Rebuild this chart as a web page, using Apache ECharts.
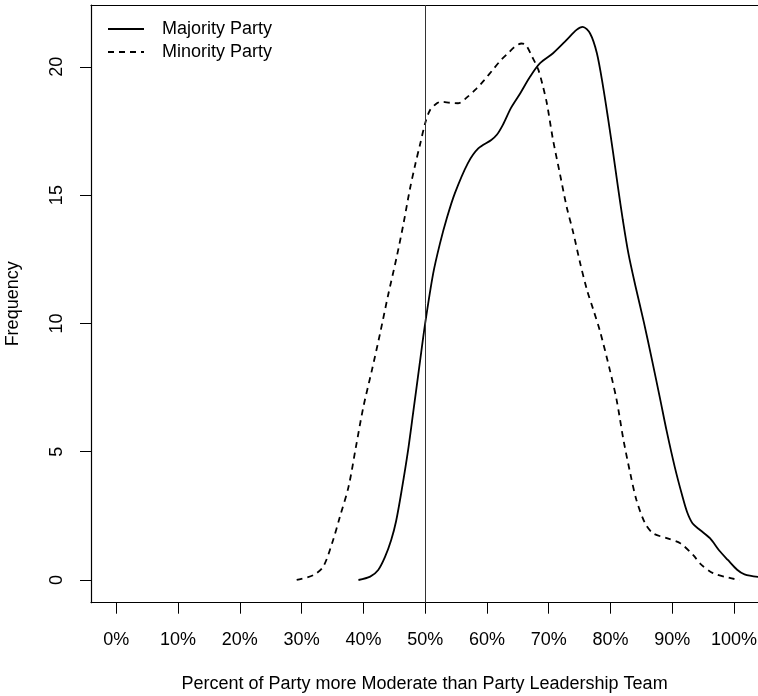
<!DOCTYPE html>
<html>
<head>
<meta charset="utf-8">
<style>
  html, body { margin: 0; padding: 0; background: #fff; }
  #chart { width: 758px; height: 696px; }
</style>
<script src="https://cdn.jsdelivr.net/npm/echarts@6/dist/echarts.min.js"></script>
</head>
<body>
<div id="chart"></div>
<script>
// ---- Data ----
const seriesNames = ['Majority Party', 'Minority Party'];

const majorityX = [39.2, 41.1, 42.4, 43.5, 44.5, 45.3, 46.2, 47.2, 48.1, 49.1, 50.0, 51.3, 52.4, 53.5, 54.8, 56.9, 58.6, 60.7, 61.6, 62.6, 63.9, 65.4, 67.0, 68.6, 70.7, 72.9, 74.5, 75.5, 76.7, 77.8, 78.8, 79.6, 80.4, 81.2, 82.0, 82.9, 84.0, 85.4, 86.7, 88.0, 89.1, 90.4, 91.6, 92.4, 93.3, 94.5, 96.1, 97.6, 99.0, 100.5, 101.7, 103.9];
const majorityY = [0, 0.13, 0.39, 0.9, 1.56, 2.3, 3.5, 5.0, 6.6, 8.4, 10.0, 11.95, 13.12, 14.1, 15.07, 16.24, 16.82, 17.15, 17.35, 17.75, 18.4, 18.97, 19.62, 20.14, 20.53, 21.05, 21.44, 21.56, 21.3, 20.53, 19.23, 18.0, 16.7, 15.33, 14.03, 12.73, 11.5, 10.05, 8.6, 7.1, 5.8, 4.41, 3.3, 2.65, 2.2, 1.95, 1.63, 1.15, 0.78, 0.4, 0.22, 0.12];

const minorityX = [29.2, 31.9, 33.5, 35.1, 36.2, 37.6, 38.8, 40.0, 41.4, 42.7, 44.0, 45.4, 46.5, 47.5, 48.4, 49.2, 50.0, 50.8, 51.9, 52.6, 54.0, 55.3, 56.9, 58.3, 59.6, 61.0, 62.3, 63.5, 64.5, 65.6, 66.3, 67.3, 68.3, 69.0, 69.7, 70.7, 71.8, 72.9, 74.0, 75.1, 76.2, 77.2, 78.3, 79.9, 81.0, 82.1, 83.2, 84.2, 85.6, 86.9, 89.1, 91.3, 93.4, 94.6, 96.6, 99.3, 100.9];
const minorityY = [0, 0.19, 0.52, 1.56, 2.47, 3.64, 5.2, 6.75, 8.2, 9.61, 11.1, 12.6, 13.9, 15.2, 16.2, 17.0, 17.8, 18.32, 18.58, 18.64, 18.6, 18.58, 18.84, 19.15, 19.49, 19.9, 20.27, 20.55, 20.78, 20.91, 20.85, 20.4, 19.9, 19.3, 18.58, 17.15, 15.85, 14.55, 13.51, 12.34, 11.3, 10.55, 9.7, 8.18, 7.01, 5.46, 4.16, 3.12, 2.21, 1.82, 1.63, 1.43, 0.97, 0.62, 0.27, 0.08, 0];

const xTickValues = [0, 10, 20, 30, 40, 50, 60, 70, 80, 90, 100];
const yTickValues = [0, 5, 10, 15, 20];
const referenceLineX = 50;

const xTitle = 'Percent of Party more Moderate than Party Leadership Team';
const yTitle = 'Frequency';

// ---- Build chart ----
const FONT = "'Liberation Sans', Arial, Helvetica, sans-serif";
const zip = (xs, ys) => xs.map((x, i) => [x, ys[i]]);

const chart = echarts.init(document.getElementById('chart'), null, { renderer: 'canvas' });
chart.setOption({
  animation: false,
  backgroundColor: '#ffffff',
  textStyle: { fontFamily: FONT, color: '#000' },
  grid: { left: 91, top: 5, right: 0, bottom: 93.3, containLabel: false, outerBoundsMode: 'none' },
  legend: {
    orient: 'vertical',
    left: 102,
    top: 15,
    itemWidth: 36,
    itemHeight: 14,
    itemGap: 5,
    data: seriesNames,
    itemStyle: { color: 'rgba(0,0,0,0)', borderWidth: 0, borderColor: 'rgba(0,0,0,0)' },
    textStyle: { fontFamily: FONT, fontSize: 18, color: '#000', lineHeight: 18, padding: [0, 0, 0, 13] }
  },
  xAxis: [{
    type: 'value',
    min: -4.096,
    max: 103.88,
    position: 'bottom',
    name: xTitle,
    nameLocation: 'middle',
    nameGap: 72,
    nameTextStyle: { fontFamily: FONT, fontSize: 18, color: '#000' },
    axisLine: { show: true, onZero: false, lineStyle: { color: '#000', width: 1.2 } },
    axisTick: { show: true, length: 11, inside: false, customValues: xTickValues, lineStyle: { color: '#000', width: 1 } },
    axisLabel: { show: true, margin: 28, customValues: xTickValues, formatter: v => v + '%', fontFamily: FONT, fontSize: 18, color: '#000' },
    splitLine: { show: false }
  }, {
    type: 'value',
    min: -4.096,
    max: 103.88,
    position: 'top',
    axisLine: { show: true, onZero: false, lineStyle: { color: '#000', width: 1.2 } },
    axisTick: { show: false },
    axisLabel: { show: false },
    splitLine: { show: false }
  }],
  yAxis: {
    type: 'value',
    min: -0.885,
    max: 22.41,
    name: yTitle,
    nameLocation: 'middle',
    nameRotate: 90,
    nameGap: 69,
    nameTextStyle: { fontFamily: FONT, fontSize: 18, color: '#000' },
    axisLine: { show: true, onZero: false, lineStyle: { color: '#000', width: 1.2 } },
    axisTick: { show: true, length: 11, inside: false, customValues: yTickValues, lineStyle: { color: '#000', width: 1 } },
    axisLabel: { show: true, rotate: 90, margin: 25, customValues: yTickValues, fontFamily: FONT, fontSize: 18, color: '#000' },
    splitLine: { show: false }
  },
  series: [{
    name: seriesNames[0],
    type: 'line',
    xAxisIndex: 0,
    data: zip(majorityX, majorityY),
    smooth: 0.3,
    symbol: 'none',
    lineStyle: { color: '#000', width: 1.8, type: 'solid' },
    itemStyle: { color: '#000' },
    markLine: {
      silent: true,
      symbol: ['none', 'none'],
      label: { show: false },
      lineStyle: { color: '#333', width: 1, type: 'solid' },
      data: [{ xAxis: referenceLineX }]
    }
  }, {
    name: seriesNames[1],
    type: 'line',
    xAxisIndex: 0,
    data: zip(minorityX, minorityY),
    smooth: 0.3,
    symbol: 'none',
    lineStyle: { color: '#000', width: 1.8, type: [6, 5] },
    itemStyle: { color: '#000' }
  }]
});
</script>
</body>
</html>
